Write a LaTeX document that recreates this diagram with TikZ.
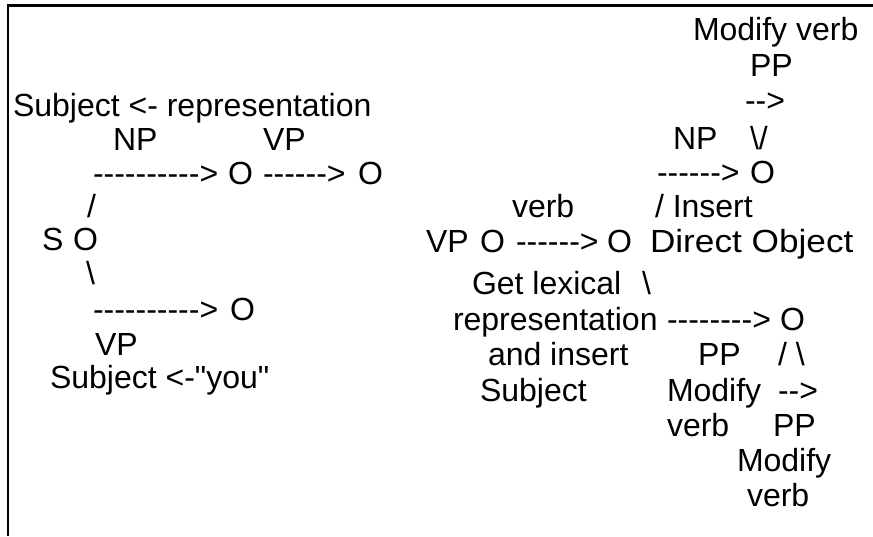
\documentclass[tikz,border=0pt]{standalone}
\usepackage{fontspec}
\setmainfont{Liberation Sans}[Ligatures=TeXOff]
\newcommand{\bs}{\textbackslash}
\begin{document}
\begin{tikzpicture}[x=1pt,y=-1pt,
  txt/.style={anchor=base west, inner sep=0pt, outer sep=0pt,
              font=\fontsize{32}{36}\selectfont},
  frame/.style={line width=2.5pt, line join=miter}]
\useasboundingbox (0,0) rectangle (873,536);
% frame: left and top edges only
\draw[frame] (8,536) -- (8,5.7) -- (873,5.7);

% ---------- left tree: S (rows 34pt apart) ----------
\node[txt] (l0)  at (13,116)  {Subject <- representation};
\node[txt] (l1a) at (113,150) {NP};
\node[txt] (l1b) at (263,150) {VP};
\node[txt] (l2a) at (93,184)  {---------->};
\node[txt] (l2b) at (228,184) {O};
\node[txt] (l2c) at (263,184) {------>};
\node[txt] (l2d) at (358,184) {O};
\node[txt] (l3)  at (87,217)  {/};
\node[txt] (l4a) at (42,250)  {S};
\node[txt] (l4b) at (73,250)  {O};
\node[txt] (l5)  at (86,284)  {\bs};
\node[txt] (l6a) at (93,320)  {---------->};
\node[txt] (l6b) at (230,320) {O};
\node[txt] (l7)  at (95,355)  {VP};
\node[txt] (l8)  at (50,388)  {Subject <-"you"};

% ---------- right tree: VP (rows about 36pt apart) ----------
\node[txt] (r0)  at (693,40)    {Modify verb};
\node[txt] (r1)  at (750,76.5)  {PP};
\node[txt] (r2)  at (745,111.6) {-->};
\node[txt] (r3a) at (673,149)   {NP};
\node[txt] (r3b) at (750,149)   {\bs/};
\node[txt] (r4a) at (657,183.2) {------>};
\node[txt] (r4b) at (750,183.2) {O};
\node[txt] (r5a) at (512,217)   {verb};
\node[txt] (r5b) at (655,217)   {/ Insert};
\node[txt] (r6a) at (426,252)   {VP};
\node[txt] (r6b) at (480,252)   {O};
\node[txt] (r6c) at (516,252)   {------>};
\node[txt] (r6d) at (607,252)   {O};
\node[txt] (r6e) at (650,252)   {\scalebox{1.1}[1]{Direct Object}};
\node[txt] (r7a) at (472,294)   {Get lexical};
\node[txt] (r7b) at (642,294)   {\bs};
\node[txt] (r8a) at (453,330)   {representation};
\node[txt] (r8b) at (667,330)   {-------->};
\node[txt] (r8c) at (780,330)   {O};
\node[txt] (r9a) at (488,365.5) {and insert};
\node[txt] (r9b) at (698,365.5) {PP};
\node[txt] (r9c) at (778,365.5) {/ \bs};
\node[txt] (r10a) at (480,401)  {Subject};
\node[txt] (r10b) at (667,401)  {Modify};
\node[txt] (r10c) at (778,401)  {-->};
\node[txt] (r11a) at (667,436.5) {verb};
\node[txt] (r11b) at (773,436.5) {PP};
\node[txt] (r12) at (737,471.5) {Modify};
\node[txt] (r13) at (747,506.5) {verb};
\end{tikzpicture}
\end{document}
